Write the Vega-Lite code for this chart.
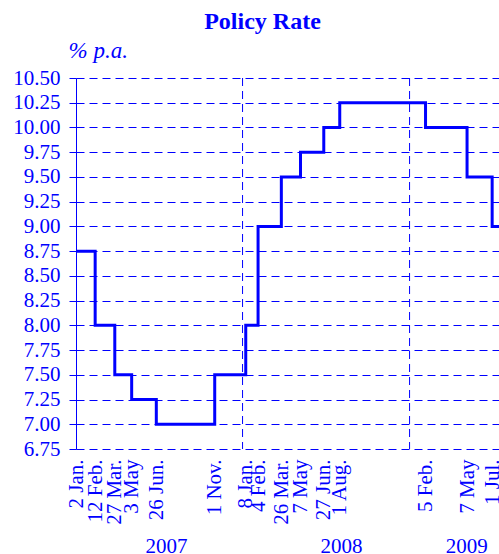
{
  "$schema": "https://vega.github.io/schema/vega-lite/v6.json",
  "width": 423,
  "height": 371,
  "autosize": {"type": "none"},
  "padding": {"left": 76, "top": 78, "right": 0, "bottom": 105},
  "config": {"font": "Liberation Serif", "view": {"stroke": null}},
  "title": {
    "text": "Policy Rate",
    "font": "Liberation Serif",
    "fontSize": 24,
    "fontWeight": "bold",
    "color": "#0000ff",
    "anchor": "middle",
    "frame": "group",
    "dx": -25,
    "offset": 5
  },
  "datasets": {
    "rate": [
      {"date": "2007-01-02", "rate": 8.75},
      {"date": "2007-02-12", "rate": 8.0},
      {"date": "2007-03-27", "rate": 7.5},
      {"date": "2007-05-03", "rate": 7.25},
      {"date": "2007-06-26", "rate": 7.0},
      {"date": "2007-11-01", "rate": 7.5},
      {"date": "2008-01-08", "rate": 8.0},
      {"date": "2008-02-04", "rate": 9.0},
      {"date": "2008-03-26", "rate": 9.5},
      {"date": "2008-05-07", "rate": 9.75},
      {"date": "2008-06-27", "rate": 10.0},
      {"date": "2008-08-01", "rate": 10.25},
      {"date": "2009-02-05", "rate": 10.0},
      {"date": "2009-05-07", "rate": 9.5},
      {"date": "2009-07-01", "rate": 9.0},
      {"date": "2009-07-16", "rate": 9.0}
    ],
    "years": [
      {"date": "2008-01-01"},
      {"date": "2009-01-01"}
    ]
  },
  "resolve": {"axis": {"x": "independent"}},
  "layer": [
    {
      "data": {"name": "rate"},
      "mark": {"type": "line", "interpolate": "step-after", "color": "#0000ff", "strokeWidth": 3, "clip": true},
      "encoding": {
        "x": {
          "field": "date",
          "type": "temporal",
          "scale": {
            "type": "utc",
            "domain": [
              {"year": 2007, "month": 1, "date": 1, "utc": true},
              {"year": 2009, "month": 7, "date": 16, "utc": true}
            ]
          },
          "axis": {
            "title": null,
            "orient": "bottom",
            "values": [
              {"year": 2007, "month": 1, "date": 2, "utc": true},
              {"year": 2007, "month": 2, "date": 12, "utc": true},
              {"year": 2007, "month": 3, "date": 27, "utc": true},
              {"year": 2007, "month": 5, "date": 3, "utc": true},
              {"year": 2007, "month": 6, "date": 26, "utc": true},
              {"year": 2007, "month": 11, "date": 1, "utc": true},
              {"year": 2008, "month": 1, "date": 8, "utc": true},
              {"year": 2008, "month": 2, "date": 4, "utc": true},
              {"year": 2008, "month": 3, "date": 26, "utc": true},
              {"year": 2008, "month": 5, "date": 7, "utc": true},
              {"year": 2008, "month": 6, "date": 27, "utc": true},
              {"year": 2008, "month": 8, "date": 1, "utc": true},
              {"year": 2009, "month": 2, "date": 5, "utc": true},
              {"year": 2009, "month": 5, "date": 7, "utc": true},
              {"year": 2009, "month": 7, "date": 1, "utc": true}
            ],
            "labelExpr": "utcFormat(datum.value, '%-d %b') + (utcmonth(datum.value) == 4 ? '' : '.')",
            "labelAngle": -90,
            "labelAlign": "right",
            "labelBaseline": "middle",
            "labelFontSize": 21,
            "labelColor": "#0000ff",
            "labelPadding": 10,
            "labelOverlap": false,
            "labelBound": false,
            "labelFlush": false,
            "ticks": false,
            "domain": false,
            "grid": false
          }
        },
        "y": {
          "field": "rate",
          "type": "quantitative",
          "scale": {"domain": [6.75, 10.5], "nice": false, "zero": false},
          "axis": {
            "title": "% p.a.",
            "titleAngle": 0,
            "titleAlign": "left",
            "titleBaseline": "alphabetic",
            "titleX": -8,
            "titleY": -21,
            "titleFont": "Liberation Serif",
            "titleFontSize": 23,
            "titleFontWeight": "normal",
            "titleFontStyle": "italic",
            "titleColor": "#0000ff",
            "values": [6.75, 7, 7.25, 7.5, 7.75, 8, 8.25, 8.5, 8.75, 9, 9.25, 9.5, 9.75, 10, 10.25, 10.5],
            "format": ".2f",
            "labelFontSize": 21,
            "labelColor": "#0000ff",
            "labelPadding": 9,
            "tickSize": 7,
            "tickColor": "#0000ff",
            "domainColor": "#0000ff",
            "grid": true,
            "gridColor": "#0000ff",
            "gridDash": [8, 5],
            "gridOpacity": 1,
            "labelOverlap": false,
            "labelBound": false,
            "labelFlush": false
          }
        }
      }
    },
    {
      "data": {"name": "years"},
      "mark": {"type": "rule", "color": "#0000ff", "strokeWidth": 1, "strokeDash": [8, 5]},
      "encoding": {
        "x": {
          "field": "date",
          "type": "temporal",
          "axis": {
            "title": null,
            "orient": "bottom",
            "values": [
              {"year": 2007, "month": 7, "date": 17, "utc": true},
              {"year": 2008, "month": 8, "date": 4, "utc": true},
              {"year": 2009, "month": 5, "date": 5, "utc": true}
            ],
            "labelExpr": "utcFormat(datum.value, '%Y')",
            "labelAngle": 0,
            "labelAlign": "center",
            "labelBaseline": "alphabetic",
            "labelFontSize": 21,
            "labelColor": "#0000ff",
            "labelPadding": 103,
            "labelOverlap": false,
            "labelBound": false,
            "labelFlush": false,
            "ticks": false,
            "domain": false,
            "grid": false
          }
        }
      }
    }
  ]
}
